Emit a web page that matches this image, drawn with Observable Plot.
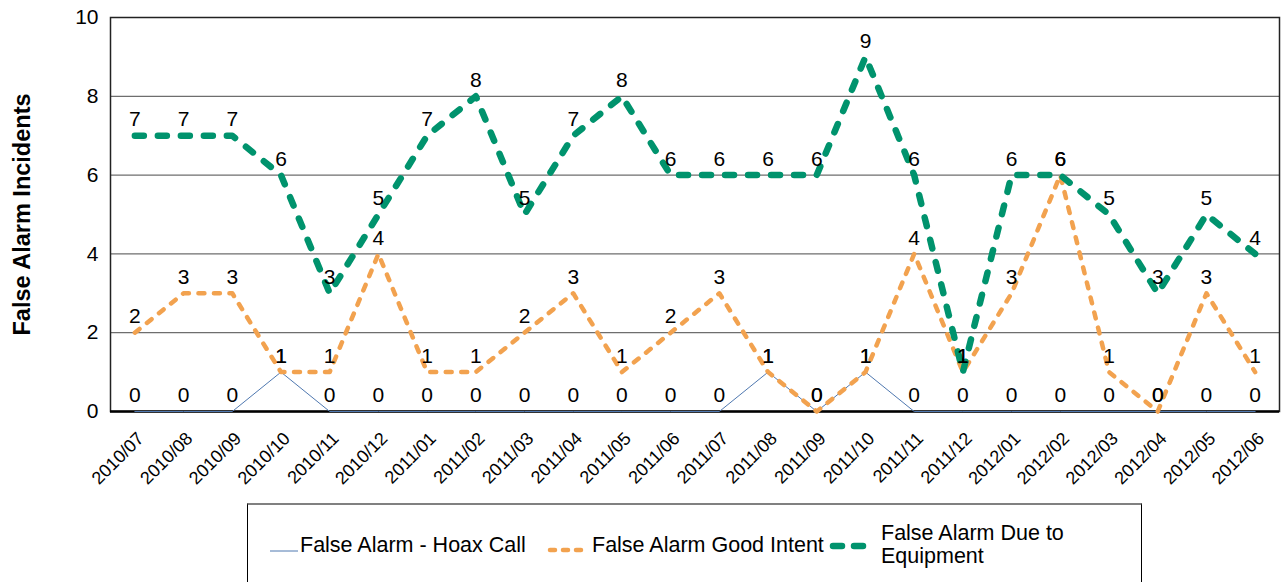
<!DOCTYPE html>
<html>
<head>
<meta charset="utf-8">
<script src="https://cdn.jsdelivr.net/npm/d3@7"></script>
<script src="https://cdn.jsdelivr.net/npm/@observablehq/plot@0.6"></script>
<style>
  html, body { margin: 0; padding: 0; background: #fff; }
  body { width: 1284px; height: 582px; overflow: hidden; font-family: "Liberation Sans", Arial, sans-serif; }
  #legend { position: absolute; left: 247px; top: 503px; width: 895px; height: 90px;
    border-top: 2px solid #808080; border-left: 1px solid #000; border-right: 1px solid #000; box-sizing: border-box; }
  .item { position: absolute; font-size: 21.5px; color: #000; line-height: 23px; white-space: nowrap; }
</style>
</head>
<body>
<div id="chart"></div>
<div id="legend"></div>
<script>
const months = ["2010/07","2010/08","2010/09","2010/10","2010/11","2010/12","2011/01","2011/02","2011/03","2011/04","2011/05","2011/06","2011/07","2011/08","2011/09","2011/10","2011/11","2011/12","2012/01","2012/02","2012/03","2012/04","2012/05","2012/06"];
const hoax      = [0,0,0,1,0,0,0,0,0,0,0,0,0,1,0,1,0,0,0,0,0,0,0,0];
const goodIntent= [2,3,3,1,1,4,1,1,2,3,1,2,3,1,0,1,4,1,3,6,1,0,3,1];
const equipment = [7,7,7,6,3,5,7,8,5,7,8,6,6,6,6,9,6,1,6,6,5,3,5,4];
const seriesNames = ["False Alarm - Hoax Call","False Alarm Good Intent","False Alarm Due to Equipment"];
const yTicks = [0,2,4,6,8,10];

const toRows = (vals) => months.map((m, i) => ({month: m, value: vals[i]}));
const hoaxRows = toRows(hoax), goodRows = toRows(goodIntent), equipRows = toRows(equipment);

const plot = Plot.plot({
  width: 1284,
  height: 500,
  marginLeft: 110,
  marginRight: 5,
  marginTop: 17,
  marginBottom: 89,
  style: {fontFamily: "Liberation Sans, Arial, sans-serif", background: "#fff", overflow: "visible"},
  x: {type: "point", domain: months, padding: 0.5, round: false},
  y: {domain: [0, 10]},
  marks: [
    Plot.ruleY([2,4,6,8], {stroke: "#6e6e6e", strokeWidth: 1.2}),
    Plot.frame({stroke: "#222", strokeWidth: 1.5}),
    Plot.axisY({ticks: yTicks, tickSize: 0, tickPadding: 12, fontSize: 21, fill: "#000", label: null}),
    Plot.text(["False Alarm Incidents"], {frameAnchor: "left", textAnchor: "middle", rotate: -90, dx: -88, fontSize: 23.5, fontWeight: "bold", fill: "#000"}),
    Plot.axisX({tickSize: 0, tickRotate: -45, tickPadding: 24, dx: 6, fontSize: 18, fill: "#000", label: null}),
    Plot.ruleY([0], {stroke: "#000", strokeWidth: 2.5}),
    Plot.line(hoaxRows, {x: "month", y: "value", stroke: "#4f78b0", strokeWidth: 1}),
    Plot.ruleY([0], {x1: months[0], x2: months[months.length-1], stroke: "#1f3350", strokeWidth: 2}),
    Plot.line(goodRows, {x: "month", y: "value", stroke: "#f2a24f", strokeWidth: 4.5, strokeDasharray: "6,9.5", strokeLinecap: "round"}),
    Plot.line(equipRows, {x: "month", y: "value", stroke: "#00936d", strokeWidth: 6.5, strokeDasharray: "9,14", strokeLinecap: "round"}),
    Plot.text(hoaxRows, {x: "month", y: "value", text: "value", dy: -16, fontSize: 21, fill: "#000"}),
    Plot.text(goodRows, {x: "month", y: "value", text: "value", dy: -16, fontSize: 21, fill: "#000"}),
    Plot.text(equipRows, {x: "month", y: "value", text: "value", dy: -16, fontSize: 21, fill: "#000"})
  ]
});
document.getElementById("chart").appendChild(plot);

// Legend
const lg = document.getElementById("legend");
const sw = (left, top, html) => { const d = document.createElement("div"); d.style.position = "absolute"; d.style.left = left + "px"; d.style.top = top + "px"; d.innerHTML = html; lg.appendChild(d); };
const txt = (left, top, html) => { const d = document.createElement("div"); d.className = "item"; d.style.left = left + "px"; d.style.top = top + "px"; d.innerHTML = html; lg.appendChild(d); };
sw(22, 37, '<svg width="30" height="10"><line x1="0" y1="5" x2="28" y2="5" stroke="#4f78b0" stroke-width="1"/></svg>');
txt(52, 29, seriesNames[0]);
sw(298, 36, '<svg width="46" height="10"><line x1="4" y1="5" x2="42" y2="5" stroke="#f2a24f" stroke-width="4.5" stroke-dasharray="5,8" stroke-linecap="round"/></svg>');
txt(344, 29, seriesNames[1]);
sw(580, 34, '<svg width="46" height="14"><line x1="5" y1="7" x2="41" y2="7" stroke="#00936d" stroke-width="6.5" stroke-dasharray="9,12" stroke-linecap="round"/></svg>');
txt(633, 17, "False Alarm Due to<br>Equipment");
</script>
</body>
</html>
